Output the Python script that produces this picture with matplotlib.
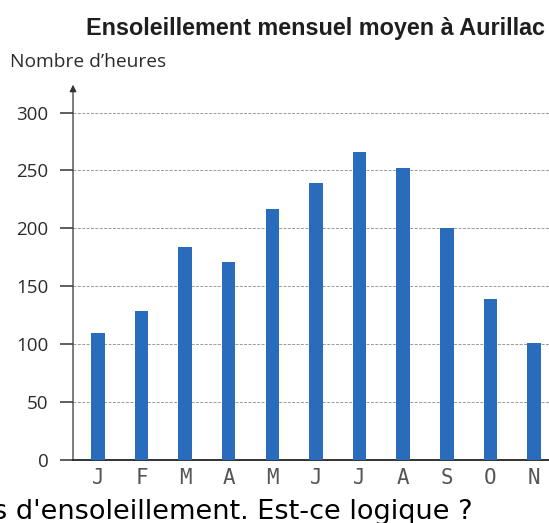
import matplotlib.pyplot as plt

months = ['J', 'F', 'M', 'A', 'M', 'J', 'J', 'A', 'S', 'O', 'N']
hours = [110, 129, 184, 171, 217, 239, 266, 252, 200, 139, 101]
yticks = [0, 50, 100, 150, 200, 250, 300]

bar_color = '#2a6cbc'
text_color = '#2b2b2b'

fig = plt.figure(figsize=(5.49, 5.23), dpi=100)
ax = fig.add_axes([0.133, 0.1205, 0.9, 0.7175])

x = range(len(months))
ax.bar(x, hours, width=0.31, color=bar_color, zorder=3)

ax.set_xlim(-0.571, 10.76)
ax.set_ylim(0, 324)

# dashed grid at every tick
for v in yticks[1:]:
    ax.axhline(v, color='#9a9a9a', lw=0.7, ls=(0, (3, 1.5)), zorder=1)

for side in ['top', 'right', 'left']:
    ax.spines[side].set_visible(False)
ax.spines['bottom'].set_color('#222222')
ax.spines['bottom'].set_linewidth(1.3)

# vertical axis with arrow
ax.annotate('', xy=(0, 1.0), xytext=(0, 0), xycoords='axes fraction',
            arrowprops=dict(arrowstyle='-|>', color='#333333', lw=0.9,
                            mutation_scale=10, shrinkA=0, shrinkB=0))

ax.set_yticks(yticks)
ax.set_yticklabels([str(v) for v in yticks], family=['Open Sans', 'DejaVu Sans'],
                   fontsize=13.5, color=text_color)
ax.tick_params(axis='y', length=9.5, width=1.1, color='#333333', pad=8)

ax.set_xticks(list(x))
ax.set_xticklabels(months, family='DejaVu Sans Mono', fontsize=15, color='#555555')
ax.tick_params(axis='x', length=0, pad=6)

fig.text(0.992, 0.945, 'Ensoleillement mensuel moyen à Aurillac',
         ha='right', va='center', fontsize=16.8, fontweight='bold',
         family=['Liberation Sans', 'DejaVu Sans'], color='#1e1e1e')
fig.text(0.018, 0.882, 'Nombre d\u2019heures', ha='left', va='center',
         fontsize=13.8, family=['Open Sans', 'DejaVu Sans'], color=text_color)
fig.text(-0.012, 0.008, "s d'ensoleillement. Est-ce logique ?", ha='left',
         va='baseline', fontsize=19.5, color='black')

fig.savefig('out.png', dpi=100)
